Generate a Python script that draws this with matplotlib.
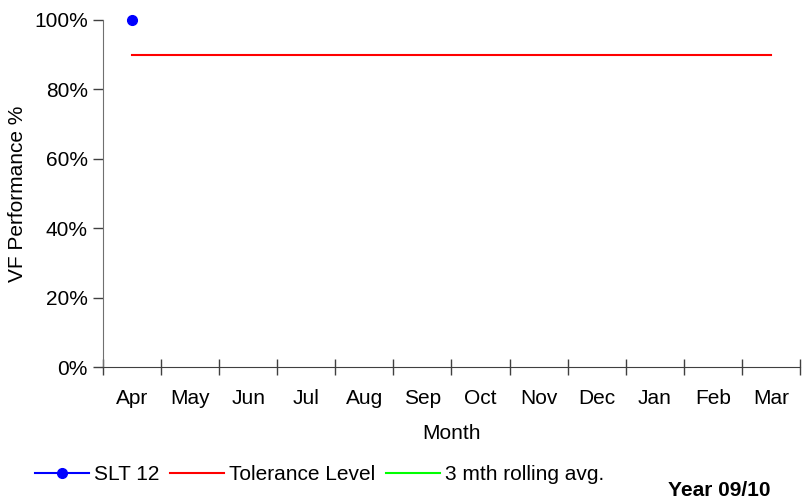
import numpy as np
import matplotlib
matplotlib.use('Agg')
import matplotlib.pyplot as plt
from matplotlib.ticker import FixedLocator, PercentFormatter

plt.rcParams['font.family'] = ['Liberation Sans', 'DejaVu Sans']

# data
months = ['Apr', 'May', 'Jun', 'Jul', 'Aug', 'Sep', 'Oct', 'Nov', 'Dec', 'Jan', 'Feb', 'Mar']
slt12 = [100] + [np.nan] * 11
tolerance = [90] * 12
rolling_avg = [np.nan] * 12

FS = 15

fig = plt.figure(figsize=(8.04, 4.99), dpi=100)
ax = fig.add_axes([0.128, 0.2645, 0.867, 0.6955])

x = np.arange(len(months))
ax.plot(x, slt12, color='#0000ff', marker='o', markersize=7, linewidth=1.5, label='SLT 12', clip_on=False, zorder=5)
ax.plot(x, tolerance, color='#ff0000', linewidth=1.5, label='Tolerance Level')
ax.plot(x, rolling_avg, color='#00ff00', linewidth=1.5, label='3 mth rolling avg.')

ax.set_xlim(-0.5, len(months) - 0.5)
ax.set_ylim(0, 100)

# category labels at centres, tick marks at boundaries
ax.xaxis.set_major_locator(FixedLocator(np.arange(-0.5, len(months), 1.0)))
ax.xaxis.set_minor_locator(FixedLocator(x))
ax.set_xticklabels([])
ax.set_xticklabels(months, minor=True)
ax.tick_params(axis='x', which='major', direction='inout', length=12, width=1, color='#404040')
ax.tick_params(axis='x', which='minor', length=0, pad=16, labelsize=FS)

ax.set_yticks(np.arange(0, 101, 20))
ax.yaxis.set_major_formatter(PercentFormatter(decimals=0))
ax.tick_params(axis='y', direction='out', length=7, width=1, color='#404040', labelsize=FS, pad=4)

for s in ['top', 'right']:
    ax.spines[s].set_visible(False)
ax.spines['left'].set_color('#707070')
ax.spines['bottom'].set_color('#404040')

ax.set_xlabel('Month', fontsize=FS, labelpad=11)
ax.set_ylabel('VF Performance %', fontsize=FS, labelpad=5)

fig.legend(loc='lower left', bbox_to_anchor=(0.02, -0.008), ncol=3, frameon=False,
           fontsize=FS, handlelength=2.6, handletextpad=0.25, columnspacing=0.5)
fig.text(0.958, 0.006, 'Year 09/10', fontsize=FS, fontweight='bold', ha='right', va='baseline')

fig.savefig('out.png', dpi=100)
